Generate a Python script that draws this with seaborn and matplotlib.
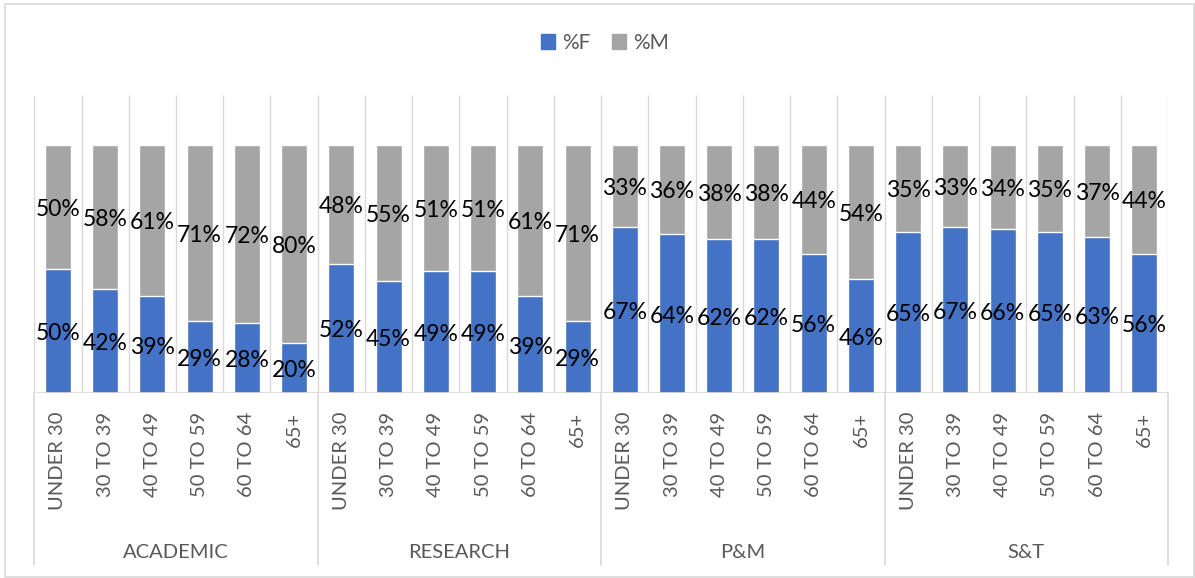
import numpy as np
import pandas as pd
import matplotlib
matplotlib.use("Agg")
import matplotlib.pyplot as plt
import seaborn as sns
from matplotlib.patches import Patch, Rectangle

# ── data ────────────────────────────────────
groups = ["ACADEMIC", "RESEARCH", "P&M", "S&T"]
ages = ["UNDER 30", "30 TO 39", "40 TO 49", "50 TO 59", "60 TO 64", "65+"]

pct_f = [50, 42, 39, 29, 28, 20,
         52, 45, 49, 49, 39, 29,
         67, 64, 62, 62, 56, 46,
         65, 67, 66, 65, 63, 56]
pct_m = [50, 58, 61, 71, 72, 80,
         48, 55, 51, 51, 61, 71,
         33, 36, 38, 38, 44, 54,
         35, 33, 34, 35, 37, 44]

BLUE = "#4472C4"
GRAY = "#A5A5A5"
LINE = "#D9D9D9"
TXT = "#595959"

rows = []
for g_i, g in enumerate(groups):
    for a_i, a in enumerate(ages):
        k = g_i * len(ages) + a_i
        rows.append({"group": g, "age": a, "key": g + " / " + a,
                     "f": pct_f[k], "m": pct_m[k], "total": pct_f[k] + pct_m[k]})
df = pd.DataFrame(rows)
keys = df["key"].tolist()

# ── plot ────────────────────────────────────
sns.set_style("white")
plt.rcParams["font.family"] = ["Lato", "DejaVu Sans"]

W, H = 1195, 578
fig = plt.figure(figsize=(W / 100, H / 100), dpi=100)
ax = fig.add_axes([34.3 / W, 185 / H, (1168 - 34.3) / W, 298 / H])

# gray = whole bar (F+M), blue drawn over it = F part
sns.barplot(data=df, x="key", y="total", order=keys, color=GRAY, saturation=1,
            width=0.55, errorbar=None, ax=ax, zorder=2)
sns.barplot(data=df, x="key", y="f", order=keys, color=BLUE, saturation=1,
            width=0.55, errorbar=None, ax=ax, zorder=3)

ax.set_xlim(-0.5, len(keys) - 0.5)
ax.set_ylim(0, 120)
ax.set_xticks([])
ax.set_yticks([])
ax.set_xlabel("")
ax.set_ylabel("")
for s in ax.spines.values():
    s.set_visible(False)

# category gridlines + axis line
ax.vlines(np.arange(-0.5, len(keys), 1), 0, 120, color=LINE, lw=1, zorder=1)
ax.axhline(0, color=LINE, lw=1.2, zorder=4)

# data labels
for i, r in df.iterrows():
    ax.text(i, r["f"] / 2 - 1, f"{r['f']}%", ha="center", va="center",
            fontsize=16.5, color="black", zorder=5)
    ax.text(i, r["f"] + r["m"] / 2 - 1, f"{r['m']}%", ha="center", va="center",
            fontsize=16.5, color="black", zorder=5)

# multi-level category axis
xt = ax.get_xaxis_transform()
for i, r in df.iterrows():
    ax.text(i, -0.062, r["age"], rotation=90, ha="center", va="top",
            transform=xt, fontsize=14.5, color=TXT)
for g_i, g in enumerate(groups):
    ax.text(g_i * len(ages) + (len(ages) - 1) / 2, -0.534, g, ha="center",
            va="center", transform=xt, fontsize=14.5, color=TXT)
for x in np.arange(-0.5, len(keys), len(ages)):
    ax.plot([x, x], [0, -0.577], transform=xt, clip_on=False, color=LINE, lw=1.2)

# legend
handles = [Patch(color=BLUE, label="%F"), Patch(color=GRAY, label="%M")]
fig.legend(handles=handles, loc="center", bbox_to_anchor=(605 / W, 1 - 43 / H),
           ncol=2, frameon=False, fontsize=15, handlelength=0.7, handleheight=0.7,
           handletextpad=0.35, columnspacing=1.0, labelcolor=TXT)

# chart border
fig.add_artist(Rectangle((5 / W, 1 / H), (1194 - 5) / W, (577 - 4) / H,
                         transform=fig.transFigure, fill=False,
                         edgecolor=LINE, lw=1.2))

fig.savefig("out.png", dpi=100)
